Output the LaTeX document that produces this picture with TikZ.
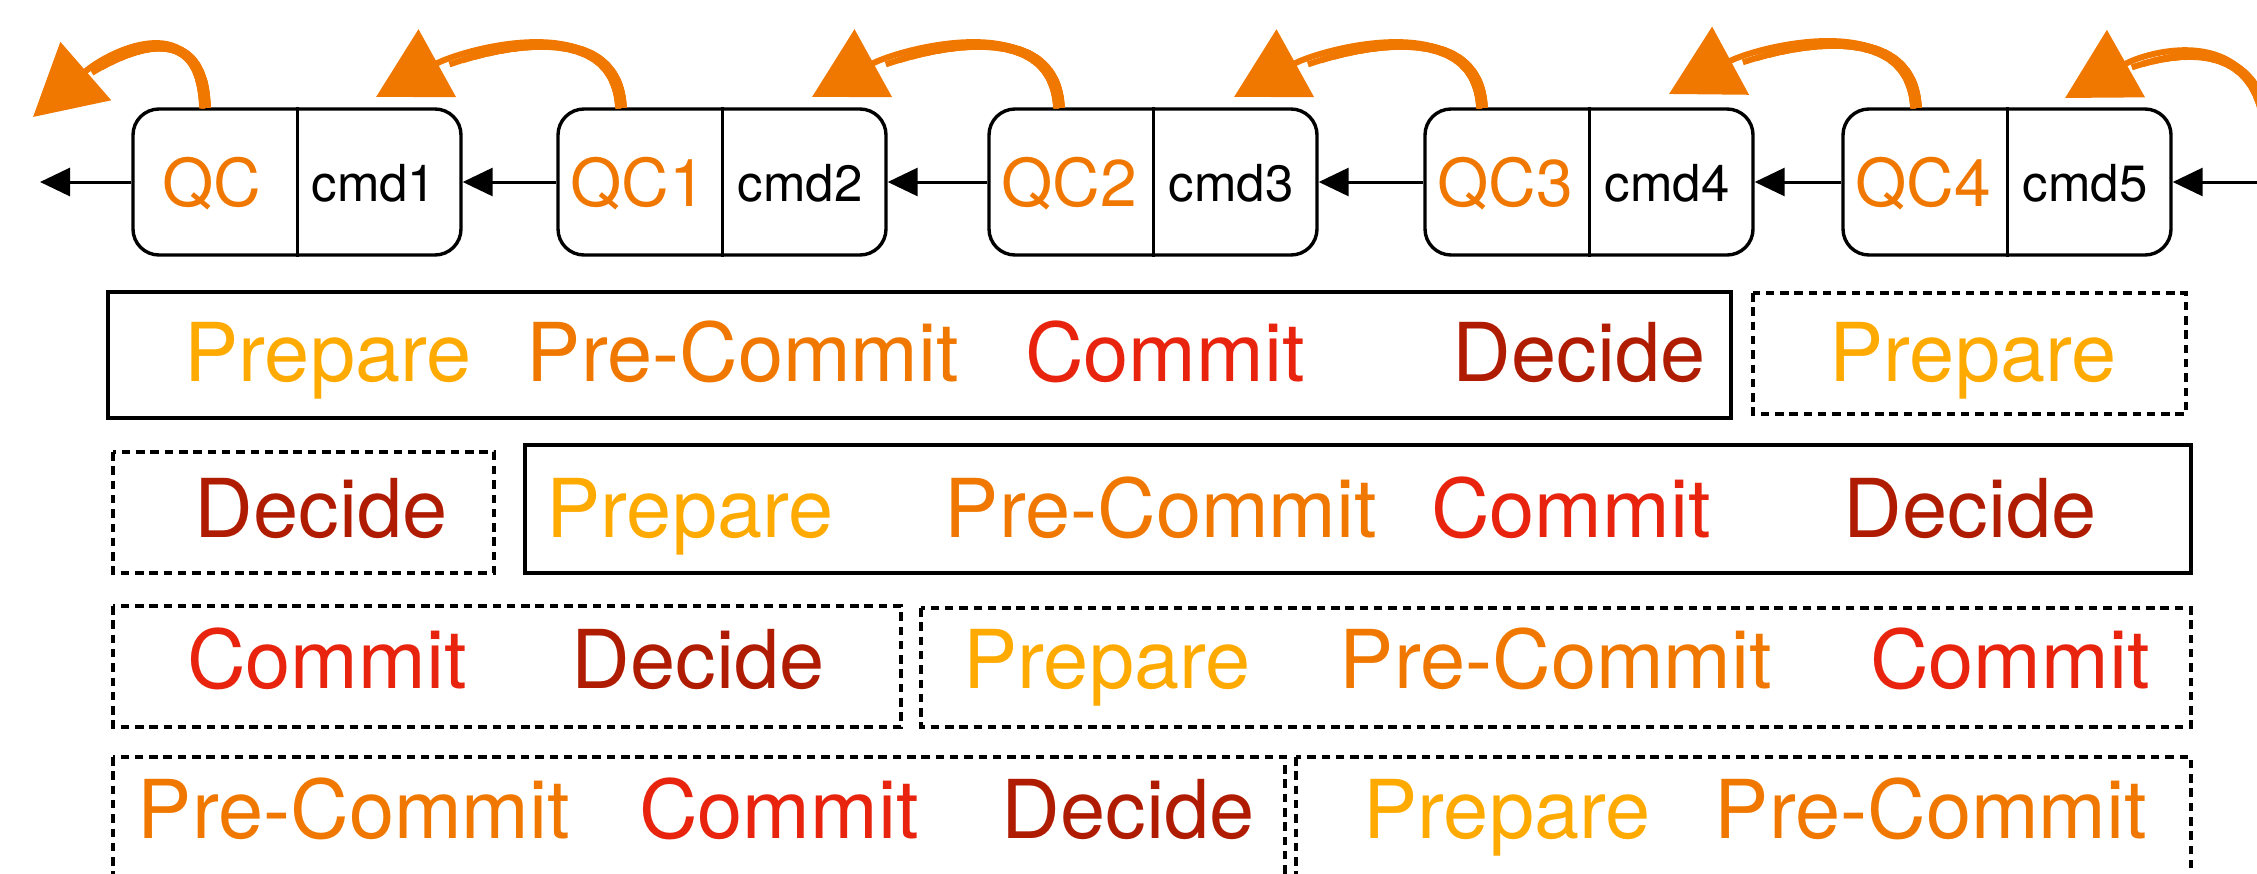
\documentclass[tikz,border=0pt]{standalone}
\usepackage{fontspec}
\setmainfont{TeX Gyre Heros}
\usetikzlibrary{arrows.meta,calc}
\definecolor{qcorange}{RGB}{240,120,0}
\definecolor{cprep}{RGB}{255,170,0}
\definecolor{cpre}{RGB}{240,120,0}
\definecolor{ccom}{RGB}{232,36,14}
\definecolor{cdec}{RGB}{176,28,2}
\tikzset{
  qbox/.style={draw=black, line width=1.7pt, rounded corners=13pt, minimum width=164pt, minimum height=73pt, inner sep=0pt},
  qctext/.style={text=qcorange, font=\fontsize{33}{35}\selectfont, anchor=base, inner sep=0pt},
  cmdtext/.style={text=black, font=\fontsize{25.5}{28}\selectfont, anchor=base, inner sep=0pt},
  harr/.style={draw=black, line width=1.5pt, -{Triangle[length=15pt,width=14pt]}},
  carr/.style={draw=qcorange, line width=3pt, -{Triangle[length=35pt,width=38pt]}},
  ctaper/.style={draw=qcorange},
  ph/.style={font=\fontsize{40.6}{42}\selectfont, anchor=base, inner sep=0pt},
  solidbox/.style={draw=black, line width=2pt},
  dashbox/.style={draw=black, line width=1.75pt, dash pattern=on 4.25pt off 2.9pt},
}
\newcommand\qcarrow[4]{%
  \path (#1) coordinate (P0) (#2) coordinate (P1) (#3) coordinate (P2) (#4) coordinate (P3);
  \draw[carr] (P0) .. controls (P1) and (P2) .. (P3);
  \foreach \tt in {0.75,0.71,...,0.08}{%
    \pgfmathsetmacro\ww{6.4-3.4*\tt/0.75}%
    \path ($(P0)!\tt!(P1)$) coordinate (A) ($(P1)!\tt!(P2)$) coordinate (B) ($(P2)!\tt!(P3)$) coordinate (C);
    \path ($(A)!\tt!(B)$) coordinate (D) ($(B)!\tt!(C)$) coordinate (E);
    \path ($(D)!\tt!(E)$) coordinate (F);
    \draw[ctaper, line width=\ww pt] (P0) .. controls (A) and (D) .. (F);
  }%
}
\begin{document}
\begin{tikzpicture}[x=0.5pt,y=-0.5pt]
\useasboundingbox (0,0) rectangle (2257,873);
% top row boxes
\node[qbox] (b1) at (297,182) {};
\node[qbox] (b2) at (722,182) {};
\node[qbox] (b3) at (1153,182) {};
\node[qbox] (b4) at (1589,182) {};
\node[qbox] (b5) at (2007,182) {};
\foreach \b in {b1,b2,b3,b4,b5}{\draw[line width=1.5pt] (\b.north) -- (\b.south);}
\node[qctext] (q1) at (212,206) {QC};
\node[qctext] (q2) at (638,206) {QC1};
\node[qctext] (q3) at (1069,206) {QC2};
\node[qctext] (q4) at (1505,206) {QC3};
\node[qctext] (q5) at (1923,206) {QC4};
\node[cmdtext] (c1) at (374,201) {cmd1};
\node[cmdtext] (c2) at (800,201) {cmd2};
\node[cmdtext] (c3) at (1231,201) {cmd3};
\node[cmdtext] (c4) at (1667,201) {cmd4};
\node[cmdtext] (c5) at (2085,201) {cmd5};
% horizontal connectors
\coordinate (lend) at (40,182);
\coordinate (rstart) at (2265,182);
\draw[harr] (b1.west) -- (lend);
\draw[harr] (b2.west) -- (b1.east);
\draw[harr] (b3.west) -- (b2.east);
\draw[harr] (b4.west) -- (b3.east);
\draw[harr] (b5.west) -- (b4.east);
\draw[harr] (rstart) -- (b5.east);
% curved arrows
\coordinate (s1) at (205,108); \coordinate (t1) at (33,117);
\coordinate (s2) at (621,108); \coordinate (t2) at (376,97);
\coordinate (s3) at (1059,108); \coordinate (t3) at (812,97);
\coordinate (s4) at (1482,108); \coordinate (t4) at (1234,97);
\coordinate (s5) at (1916,108); \coordinate (t5) at (1669,94);
\coordinate (s6) at (2268,140); \coordinate (t6) at (2065,98);
\qcarrow{s1}{202,5}{110,50}{t1}
\qcarrow{s2}{616,5}{461,50}{t2}
\qcarrow{s3}{1054,5}{897,50}{t3}
\qcarrow{s4}{1477,5}{1319,50}{t4}
\qcarrow{s5}{1911,5}{1754,48}{t5}
\qcarrow{s6}{2262,20}{2150,50}{t6}
% phase rows
\draw[solidbox] (108,292) rectangle (1731,418);
\draw[dashbox] (1753,293) rectangle (2186,414);
\node[ph,text=cprep] (r1a) at (328,381) {Prepare};
\node[ph,text=cpre] (r1b) at (743,381) {Pre-Commit};
\node[ph,text=ccom] (r1c) at (1165,381) {Commit};
\node[ph,text=cdec] (r1d) at (1579,381) {Decide};
\node[ph,text=cprep] (r1e) at (1973,381) {Prepare};
\draw[dashbox] (113,452) rectangle (494,573);
\draw[solidbox] (525,445) rectangle (2191,573);
\node[ph,text=cdec] (r2a) at (321,537) {Decide};
\node[ph,text=cprep] (r2b) at (690,537) {Prepare};
\node[ph,text=cpre] (r2c) at (1161,537) {Pre-Commit};
\node[ph,text=ccom] (r2d) at (1571,537) {Commit};
\node[ph,text=cdec] (r2e) at (1970,537) {Decide};
\draw[dashbox] (113,606) rectangle (901,727);
\draw[dashbox] (921,608) rectangle (2191,727);
\node[ph,text=ccom] (r3a) at (327,688) {Commit};
\node[ph,text=cdec] (r3b) at (698,688) {Decide};
\node[ph,text=cprep] (r3c) at (1107,688) {Prepare};
\node[ph,text=cpre] (r3d) at (1556,688) {Pre-Commit};
\node[ph,text=ccom] (r3e) at (2010,688) {Commit};
\draw[dashbox] (113,757) rectangle (1285,880);
\draw[dashbox] (1296,757) rectangle (2191,880);
\node[ph,text=cpre] (r4a) at (354,838) {Pre-Commit};
\node[ph,text=ccom] (r4b) at (779,838) {Commit};
\node[ph,text=cdec] (r4c) at (1128,838) {Decide};
\node[ph,text=cprep] (r4d) at (1507,838) {Prepare};
\node[ph,text=cpre] (r4e) at (1931,838) {Pre-Commit};
\end{tikzpicture}
\end{document}
